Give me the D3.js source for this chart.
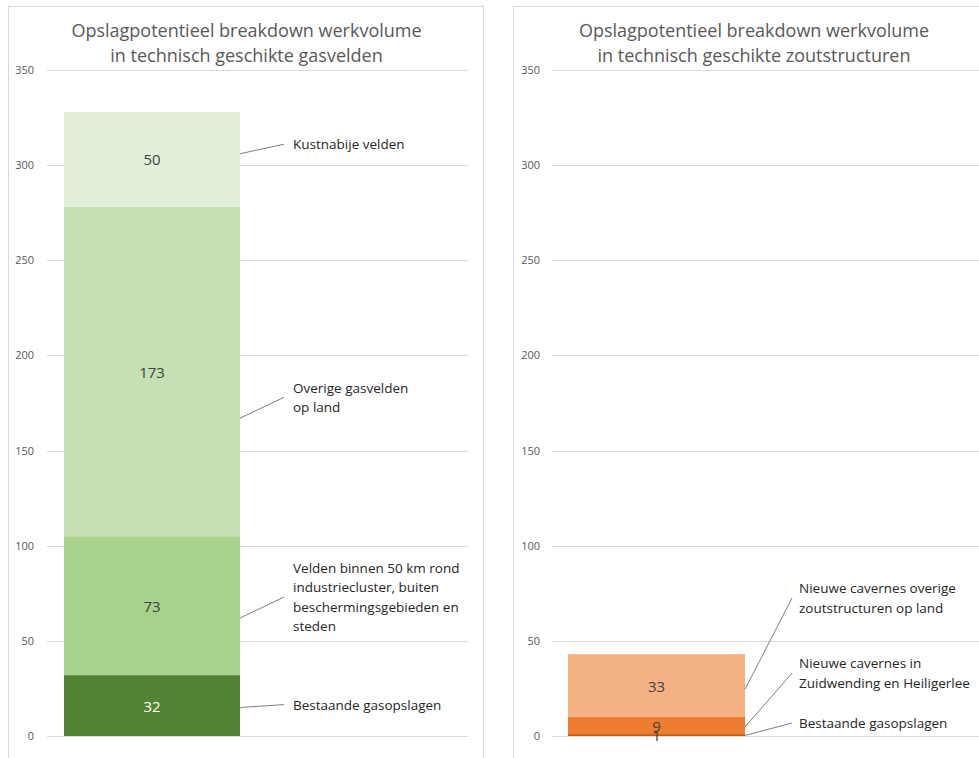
<!DOCTYPE html>
<html>
<head>
<meta charset="utf-8">
<script src="https://cdn.jsdelivr.net/npm/d3@7"></script>
<style>
  body { margin: 0; background: #fff; }
  text { font-family: "Open Sans", "Noto Sans", sans-serif; }
</style>
</head>
<body>
<svg id="chart" width="979" height="758"></svg>
<script>
// values
const ticks = [0, 50, 100, 150, 200, 250, 300, 350];

const gasTitle = ["Opslagpotentieel breakdown werkvolume", "in technisch geschikte gasvelden"];
const gasValues = [32, 73, 173, 50];
const gasColors = ["#548235", "#a9d18e", "#c5e0b4", "#e2f0d9"];
const gasLabels = [
  ["Bestaande gasopslagen"],
  ["Velden binnen 50 km rond", "industriecluster, buiten", "beschermingsgebieden en", "steden"],
  ["Overige gasvelden", "op land"],
  ["Kustnabije velden"]
];

const saltTitle = ["Opslagpotentieel breakdown werkvolume", "in technisch geschikte zoutstructuren"];
const saltValues = [1, 9, 33];
const saltColors = ["#c55a11", "#ed7d31", "#f4b183"];
const saltLabels = [
  ["Bestaande gasopslagen"],
  ["Nieuwe cavernes in", "Zuidwending en Heiligerlee"],
  ["Nieuwe cavernes overige", "zoutstructuren op land"]
];

const svg = d3.select("#chart");

function drawPanel(opt) {
  const g = svg.append("g");

  g.append("rect")
    .attr("x", opt.left + 0.5).attr("y", 6.5)
    .attr("width", opt.width).attr("height", 800)
    .attr("fill", "none").attr("stroke", "#d9d9d9");

  g.selectAll(".title")
    .data(opt.title)
    .enter().append("text")
    .attr("x", opt.left + opt.width / 2 + 1)
    .attr("y", (d, i) => 37 + i * 25)
    .attr("text-anchor", "middle")
    .attr("font-size", 18)
    .attr("fill", "#595959")
    .text(d => d);

  const y = d3.scaleLinear().domain([0, 350]).range([736, 70]);

  const axis = d3.axisLeft(y).tickValues(ticks).tickSize(0).tickPadding(opt.tickPad);
  const ag = g.append("g")
    .attr("transform", `translate(${opt.gridX0},0)`)
    .call(axis);
  ag.select(".domain").remove();
  ag.selectAll("text")
    .attr("font-size", 11)
    .attr("fill", "#595959")
    .style("font-family", "'Open Sans', sans-serif");

  g.selectAll(".grid")
    .data(ticks)
    .enter().append("line")
    .attr("x1", opt.gridX0).attr("x2", opt.gridX1)
    .attr("y1", d => Math.round(y(d)) + 0.5).attr("y2", d => Math.round(y(d)) + 0.5)
    .attr("stroke", "#d9d9d9");

  // stacked segments
  let acc = 0;
  const stack = opt.values.map(v => {
    const s = { y0: acc, y1: acc + v, v: v };
    acc += v;
    return s;
  });

  const bx0 = opt.barX0, bx1 = opt.barX1;

  g.selectAll(".seg")
    .data(stack)
    .enter().append("rect")
    .attr("x", bx0)
    .attr("width", bx1 - bx0)
    .attr("y", d => y(d.y1))
    .attr("height", d => y(d.y0) - y(d.y1))
    .attr("fill", (d, i) => opt.colors[i]);

  g.selectAll(".val")
    .data(stack)
    .enter().append("text")
    .attr("x", (bx0 + bx1) / 2)
    .attr("y", d => (y(d.y0) + y(d.y1)) / 2 + 6)
    .attr("text-anchor", "middle")
    .attr("font-size", 15)
    .attr("fill", (d, i) => opt.valueColors[i])
    .text(d => d.v);

  // leader lines + annotation labels, text block centred on line end
  opt.labels.forEach((lines, i) => {
    const a = opt.anchors[i];
    const endY = y(a.to);
    g.append("line")
      .attr("x1", bx1).attr("y1", y(a.from))
      .attr("x2", opt.lineX).attr("y2", endY)
      .attr("stroke", "#7f7f7f").attr("stroke-width", 1);
    g.selectAll(null)
      .data(lines)
      .enter().append("text")
      .attr("x", opt.textX)
      .attr("y", (d, j) => endY + 5 + (j - (lines.length - 1) / 2) * 19.5)
      .attr("font-size", 13.5)
      .attr("fill", "#262626")
      .text(d => d);
  });
}

drawPanel({
  left: 8, width: 475,
  title: gasTitle,
  values: gasValues, colors: gasColors,
  valueColors: ["#ffffff", "#404040", "#404040", "#404040"],
  labels: gasLabels,
  gridX0: 47, gridX1: 468, tickPad: 13,
  barX0: 64, barX1: 240,
  lineX: 284, textX: 293,
  anchors: [
    { from: 15, to: 16.5 },
    { from: 62, to: 73 },
    { from: 167, to: 178 },
    { from: 306, to: 311 }
  ]
});

drawPanel({
  left: 513, width: 480,
  title: saltTitle,
  values: saltValues, colors: saltColors,
  valueColors: ["#404040", "#404040", "#404040"],
  labels: saltLabels,
  gridX0: 552, gridX1: 979, tickPad: 12,
  barX0: 568, barX1: 745,
  lineX: 792, textX: 799,
  anchors: [
    { from: 0.3, to: 6.8 },
    { from: 4.8, to: 33 },
    { from: 24.5, to: 72.5 }
  ]
});
</script>
</body>
</html>
